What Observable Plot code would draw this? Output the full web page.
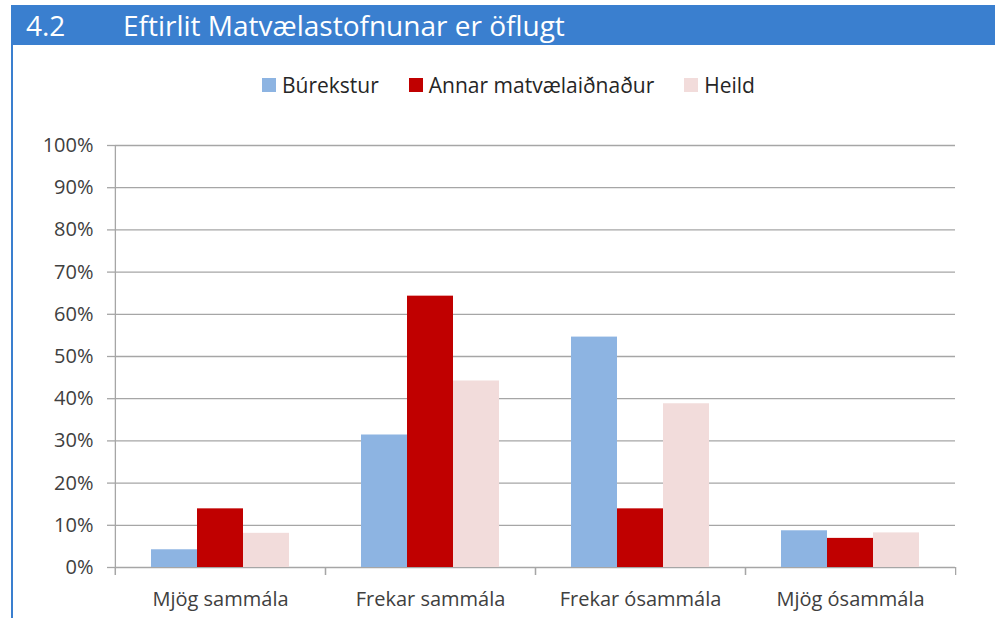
<!DOCTYPE html>
<html>
<head>
<meta charset="utf-8">
<script src="https://cdn.jsdelivr.net/npm/d3@7"></script>
<script src="https://cdn.jsdelivr.net/npm/@observablehq/plot@0.6"></script>
<style>
  html, body { margin: 0; padding: 0; background: #fff; }
  #page { position: relative; width: 995px; height: 618px; overflow: hidden; font-family: "Open Sans", sans-serif; background: #fff; }
  #header { position: absolute; left: 11px; top: 5px; width: 984px; height: 40px; background: #3A7FCF; color: #fff; font-size: 28px; line-height: 40px; white-space: nowrap; }
  #header span { position: absolute; top: 0; }
  #leftline { position: absolute; left: 11px; top: 45px; width: 2px; height: 573px; background: #3A7FCF; }
  #legend { position: absolute; left: 262px; top: 70px; height: 29px; display: flex; align-items: center; font-size: 21px; color: #262626; white-space: nowrap; }
  .item { display: flex; align-items: center; margin-right: 30px; }
  .sw { width: 14px; height: 14px; margin-right: 6px; }
  #chart { position: absolute; left: 0; top: 110px; }
</style>
</head>
<body>
<div id="page">
  <div id="header"><span id="num" style="left:15px">4.2</span><span id="ttl" style="left:112px">Eftirlit Matvælastofnunar er öflugt</span></div>
  <div id="leftline"></div>
  <div id="legend"></div>
  <div id="chart"></div>
</div>
<script>
// ---- data ----
const categories = ["Mjög sammála", "Frekar sammála", "Frekar ósammála", "Mjög ósammála"];
const seriesNames = ["Búrekstur", "Annar matvælaiðnaður", "Heild"];
const burekstur = [4.2, 31.4, 54.6, 8.7];
const annar = [13.9, 64.3, 13.9, 6.9];
const heild = [8.1, 44.2, 38.8, 8.2];
const yTicks = [0, 10, 20, 30, 40, 50, 60, 70, 80, 90, 100];

// ---- styles ----
const seriesColors = ["#8DB4E2", "#C00000", "#F2DCDB"];
const grey = "#a6a6a6";
const txt = "#404040";

const seriesValues = [burekstur, annar, heild];
const data = categories.flatMap((c, i) =>
  seriesNames.map((s, j) => ({cat: c, series: s, value: seriesValues[j][i]}))
);

const W = 995, H = 508, mL = 114, mR = 40, mT = 35, mB = 51;
const half = (W - mL - mR) / categories.length / 2;
const innerH = H - mT - mB;

const chart = Plot.plot({
  width: W, height: H,
  marginLeft: mL, marginRight: mR, marginTop: mT, marginBottom: mB,
  style: {fontFamily: '"Open Sans", sans-serif', fontSize: "20px", color: txt, background: "transparent", overflow: "visible"},
  fx: {domain: categories, padding: 0, label: null},
  x: {domain: seriesNames, paddingInner: 0, paddingOuter: 0.75, axis: null},
  y: {domain: [0, 100]},
  color: {domain: seriesNames, range: seriesColors},
  marks: [
    Plot.gridY(yTicks, {stroke: grey, strokeOpacity: 1, strokeWidth: 1.3}),
    Plot.barY(data, {fx: "cat", x: "series", y: "value", fill: "series"}),
    Plot.axisY(yTicks, {tickSize: 8, tickPadding: 14, stroke: grey, strokeWidth: 1.3, fill: txt, tickFormat: d => d + "%", label: null}),
    // vertical axis line (plus the first boundary tick below the baseline)
    Plot.axisFx({ticks: [categories[0]], anchor: "bottom", fill: "none", stroke: grey, strokeWidth: 1.3, tickSize: innerH + 8, dy: -innerH, dx: -half, label: null}),
    // boundary ticks between categories
    Plot.axisFx({anchor: "bottom", fill: "none", stroke: grey, strokeWidth: 1.3, tickSize: 8, dx: -half, label: null}),
    Plot.axisFx({anchor: "bottom", fill: "none", stroke: grey, strokeWidth: 1.3, tickSize: 8, dx: half, label: null}),
    // category labels
    Plot.axisFx({anchor: "bottom", stroke: "none", fill: txt, tickSize: 0, tickPadding: 24, label: null})
  ]
});
document.getElementById("chart").appendChild(chart);

// legend from the same colour scale
const color = chart.scale("color");
const legend = document.getElementById("legend");
color.domain.forEach((name, i) => {
  const item = document.createElement("div");
  item.className = "item";
  const sw = document.createElement("div");
  sw.className = "sw";
  sw.style.background = color.range[i];
  const label = document.createElement("span");
  label.textContent = name;
  item.appendChild(sw);
  item.appendChild(label);
  legend.appendChild(item);
});
</script>
</body>
</html>
